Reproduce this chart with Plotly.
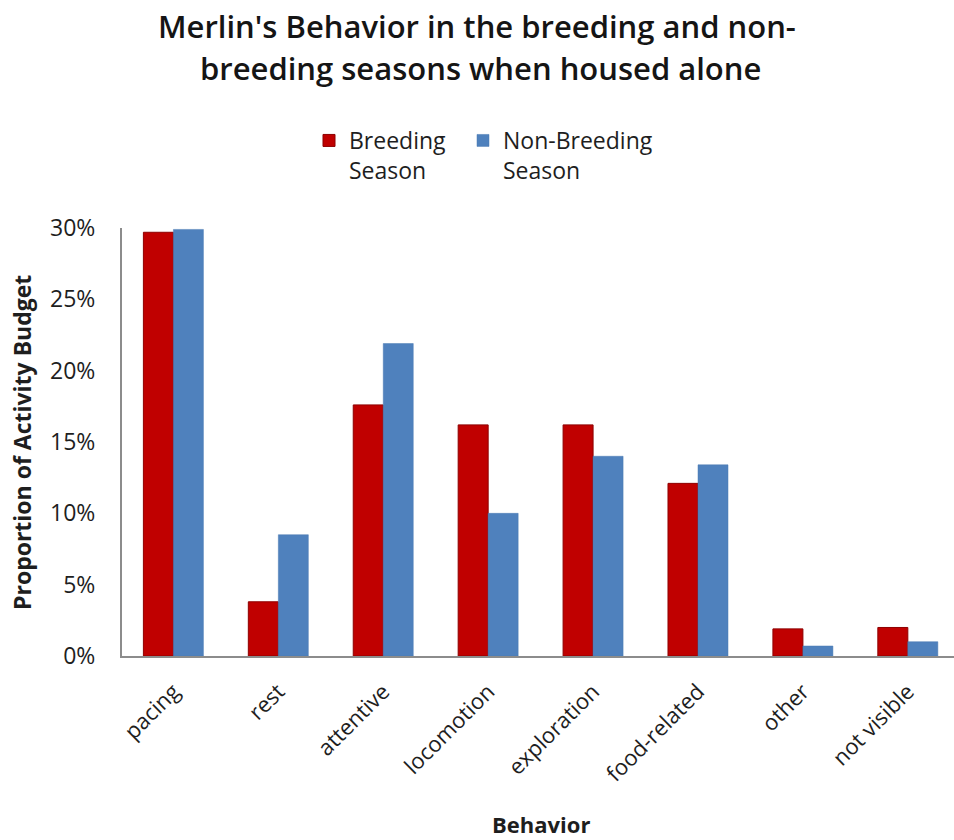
import plotly.graph_objects as go

# Behaviour categories and activity-budget proportions (fractions of observations)
behaviors = ["pacing", "rest", "attentive", "locomotion", "exploration",
             "food-related", "other", "not visible"]
breeding = [0.297, 0.038, 0.176, 0.162, 0.162, 0.121, 0.019, 0.020]
non_breeding = [0.299, 0.085, 0.219, 0.100, 0.140, 0.134, 0.007, 0.010]

series_names = ["Breeding<br>Season", "Non-Breeding<br>Season"]
y_ticks = [0, 0.05, 0.10, 0.15, 0.20, 0.25, 0.30]
y_tick_text = ["0%", "5%", "10%", "15%", "20%", "25%", "30%"]

title_lines = ["Merlin's Behavior in the breeding and non-",
               "breeding seasons when housed alone"]

RED = "#C00000"
BLUE = "#4F81BD"
AXIS = "#8C8C8C"
TEXT = "#1E1E1E"
FONT = "Open Sans"

W, H = 954, 840
M_L, M_R, M_T, M_B = 122, 0, 228, 184
plot_w = W - M_L - M_R
plot_h = H - M_T - M_B


def px_x(px):
    return (px - M_L) / plot_w


def px_y(py):
    return (H - M_B - py) / plot_h


fig = go.Figure()
fig.add_trace(go.Bar(
    x=behaviors, y=breeding, name=series_names[0], legend="legend",
    marker=dict(color=RED, line=dict(color="#8E0000", width=1)),
))
fig.add_trace(go.Bar(
    x=behaviors, y=non_breeding, name=series_names[1], legend="legend2",
    marker=dict(color=BLUE, line=dict(color="#4A7AB3", width=0.5)),
))

title_font = dict(family=FONT, size=31, color="#151515", weight=600)
annotations = [
    dict(text=title_lines[0], x=px_x(477), y=px_y(26), xref="paper", yref="paper",
         showarrow=False, xanchor="center", yanchor="middle", font=title_font),
    dict(text=title_lines[1], x=px_x(480), y=px_y(68), xref="paper", yref="paper",
         showarrow=False, xanchor="center", yanchor="middle", font=title_font),
    dict(text="Proportion of Activity Budget", x=px_x(22), y=px_y(443),
         xref="paper", yref="paper", textangle=-90, showarrow=False,
         xanchor="center", yanchor="middle",
         font=dict(family=FONT, size=23, color=TEXT, weight="bold")),
    dict(text="Behavior", x=px_x(541), y=px_y(824), xref="paper", yref="paper",
         showarrow=False, xanchor="center", yanchor="middle",
         font=dict(family=FONT, size=22, color=TEXT, weight="bold")),
]

legend_style = dict(orientation="h", xanchor="left", yanchor="top", valign="top",
                    font=dict(family=FONT, size=23, color=TEXT),
                    bgcolor="rgba(0,0,0,0)")

fig.update_layout(
    width=W, height=H,
    margin=dict(l=M_L, r=M_R, t=M_T, b=M_B, autoexpand=False),
    paper_bgcolor="white", plot_bgcolor="white",
    barmode="group", bargap=0.428, bargroupgap=0,
    font=dict(family=FONT, color=TEXT),
    showlegend=True,
    legend=dict(x=px_x(309), y=px_y(119), **legend_style),
    legend2=dict(x=px_x(463), y=px_y(119), **legend_style),
    annotations=annotations,
)

fig.update_xaxes(
    range=[-0.49, 7.44], showline=True, linecolor=AXIS, linewidth=2,
    showgrid=False, ticks="", tickangle=-45, ticklabelstandoff=12,
    tickfont=dict(family=FONT, size=22, color=TEXT), fixedrange=True,
)
fig.update_yaxes(
    range=[0, 0.30], tickvals=y_ticks, ticktext=y_tick_text,
    showline=True, linecolor=AXIS, linewidth=2, showgrid=False, zeroline=False,
    ticks="", ticklabelstandoff=20,
    tickfont=dict(family=FONT, size=23, color=TEXT), fixedrange=True,
)

fig.write_html("out.html")
